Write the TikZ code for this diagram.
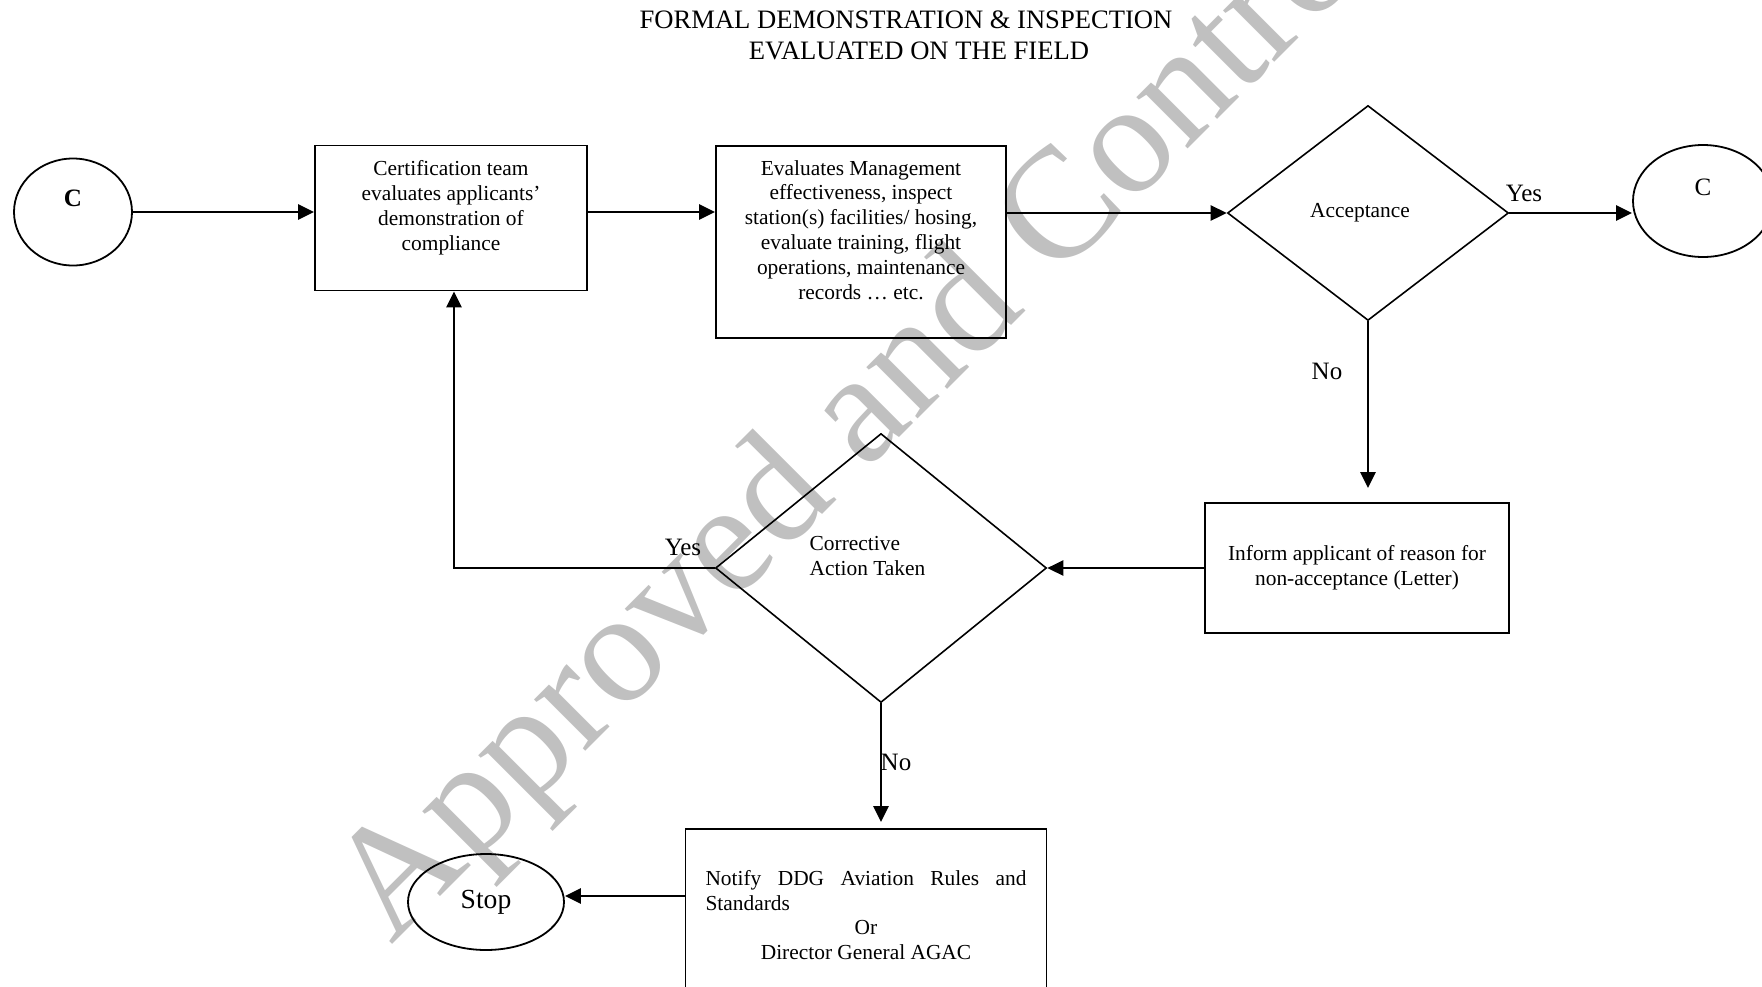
\documentclass[tikz,border=0pt]{standalone}
\usepackage{fontspec}
\setmainfont{Liberation Serif}
\usetikzlibrary{shapes.geometric,arrows.meta}
\setlength{\parindent}{0pt}
\definecolor{markgray}{RGB}{192,192,192}
\begin{document}
\begin{tikzpicture}[x=0.5pt,y=-0.5pt,
  box/.style={draw,line width=0.9pt,align=center,font=\fontsize{10.7}{12.4}\selectfont},
  dec/.style={draw,diamond,line width=0.8pt,inner sep=0pt,font=\fontsize{10.7}{12.4}\selectfont},
  term/.style={draw,ellipse,line width=0.9pt,inner sep=0pt,align=center},
  arr/.style={line width=1.3pt,-{Triangle[length=8pt,width=7.5pt]}},
  lbl/.style={font=\fontsize{12.5}{14}\selectfont}]
  \useasboundingbox (0,0) rectangle (1762,986);
  \clip (0,0) rectangle (1762,986);
  % watermark
  \node[markgray,rotate=45,anchor=base west,inner sep=0pt,font=\fontsize{79}{84}\selectfont] (mark) at (391,946) {Approved and Controlled};
  % title
  \node[font=\fontsize{13.3}{15}\selectfont] (title1) at (906,20) {FORMAL DEMONSTRATION \& INSPECTION};
  \node[font=\fontsize{13.3}{15}\selectfont] (title2) at (919,51) {EVALUATED ON THE FIELD};
  % top row
  \node[term,minimum width=59pt,minimum height=53.5pt,font=\fontsize{12.5}{14}\selectfont\bfseries] (cl) at (73,212) {C\\\mbox{}};
  \node[box,minimum width=136pt,minimum height=72.5pt] (cert) at (451,218) {Certification team\\evaluates applicants’\\demonstration of\\compliance\\\mbox{}};
  \node[box,minimum width=145pt,minimum height=96pt] (mgmt) at (861,242) {Evaluates Management\\effectiveness, inspect\\station(s) facilities/ hosing,\\evaluate training, flight\\operations, maintenance\\records … etc.\\\mbox{}};
  \node[dec,minimum width=140.5pt,minimum height=107.5pt] (acc) at (1368,213) {Acceptance\hspace*{8pt}};
  \node[term,minimum width=70pt,minimum height=56pt,font=\fontsize{12.5}{14}\selectfont] (cr) at (1703,201) {C\\\mbox{}};
  % middle row
  \node[box,minimum width=152pt,minimum height=65pt] (inform) at (1357,568) {Inform applicant of reason for\\non-acceptance (Letter)};
  \node[dec,minimum width=165.5pt,minimum height=134.5pt,align=left] (cor) at (881,568) {Corrective\\Action Taken\hspace*{13.5pt}\mbox{}\\\mbox{}};
  % bottom row
  \node[box,minimum width=180.5pt,minimum height=86pt,text width=160.5pt,align=justify] (notify) at (866,915) {Notify DDG Aviation Rules and\linebreak Standards\par{\centering Or\par Director General AGAC\par}};
  \node[term,minimum width=78pt,minimum height=48pt,font=\fontsize{13.8}{16}\selectfont] (stop) at (486,902) {\raisebox{2pt}{Stop}};
  % connectors
  \draw[arr] (cl) -- (cert.west |- cl);
  \draw[arr] (cert.east |- cl) -- (mgmt.west |- cl);
  \draw[arr] (mgmt.east |- acc) -- (acc.west);
  \draw[arr] (acc.east) -- (acc.east -| cr.west);
  \draw[arr,shorten >=7pt] (acc.south) -- (acc.south |- inform.north);
  \draw[arr] (inform.west) -- (cor.east);
  \draw[arr] (cor.west) -| ([xshift=1.5pt]cert.south);
  \draw[arr,shorten >=3pt] (cor.south) -- (cor.south |- notify.north);
  \draw[arr] ([yshift=3pt]notify.west |- stop.east) -- ([yshift=3pt]stop.east);
  % labels
  \node[lbl] (yes1) at (1524,193) {Yes};
  \node[lbl] (no1) at (1327,371) {No};
  \node[lbl] (yes2) at (683,547) {Yes};
  \node[lbl] (no2) at (896,762) {No};
\end{tikzpicture}
\end{document}
